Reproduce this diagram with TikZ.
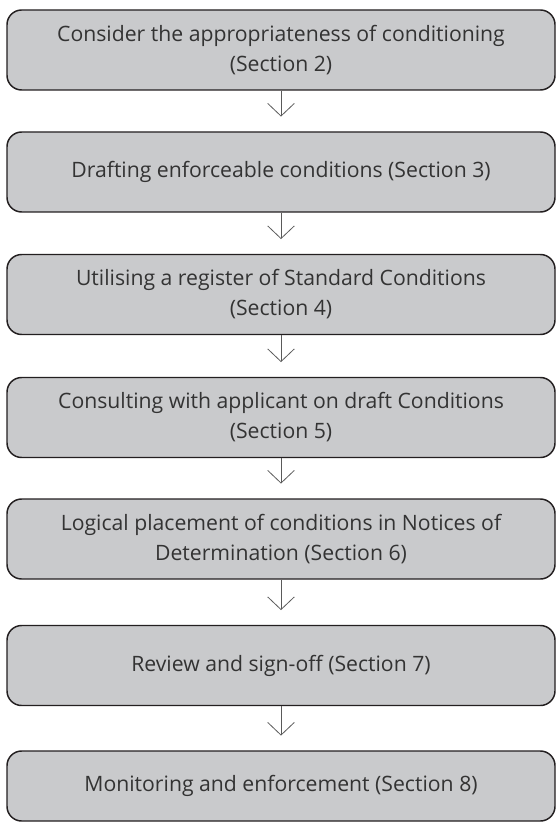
\documentclass[tikz,border=0pt]{standalone}
\usepackage{fontspec}
\setmainfont{Open Sans}
\usepackage{tikz}
\usetikzlibrary{arrows.meta}
\definecolor{boxgray}{HTML}{C9CACC}
\definecolor{boxline}{HTML}{231F20}
\definecolor{textgray}{HTML}{333333}
\definecolor{arrowgray}{HTML}{5A5A5A}

\begin{document}
\begin{tikzpicture}[x=0.75pt, y=-0.75pt,
    stage/.style={rectangle, rounded corners=11pt, draw=boxline, line width=1.1pt, fill=boxgray,
        text=textgray, minimum width=411pt, minimum height=60pt, align=center,
        font=\fontsize{15.9}{22.5}\selectfont},
    flow/.style={draw=arrowgray, line width=0.6pt, -{Straight Barb[length=9.5pt, width=20pt]}, shorten >=11pt}
]
    \useasboundingbox (0,0) rectangle (556,823);

    \node[stage] (consider) at (281,50) {Consider the appropriateness of conditioning\\(Section 2)};
    \node[stage] (draft) at (281,172) {Drafting enforceable conditions (Section 3)};
    \node[stage] (register) at (281,294.5) {Utilising a register of Standard Conditions\\(Section 4)};
    \node[stage] (consult) at (281,417.5) {Consulting with applicant on draft Conditions\\(Section 5)};
    \node[stage] (placement) at (281,539) {Logical placement of conditions in Notices of\\Determination (Section 6)};
    \node[stage] (review) at (281,665.5) {Review and sign-off (Section 7)};
    \node[stage, minimum height=52.5pt] (monitor) at (281,786) {Monitoring and enforcement (Section 8)};

    \draw[flow] (consider) -- (draft);
    \draw[flow] (draft) -- (register);
    \draw[flow] (register) -- (consult);
    \draw[flow] (consult) -- (placement);
    \draw[flow] (placement) -- (review);
    \draw[flow] (review) -- (monitor);
\end{tikzpicture}
\end{document}
